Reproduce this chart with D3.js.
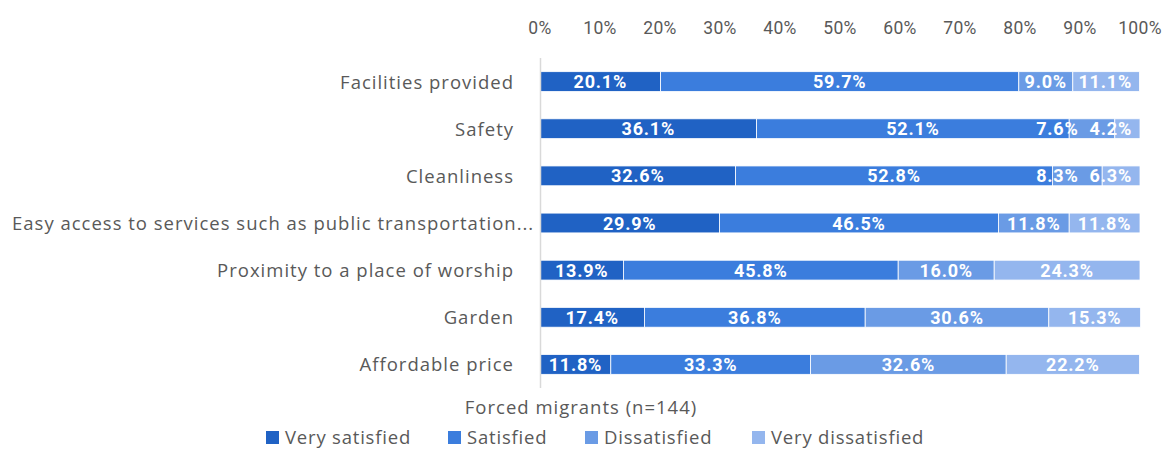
<!DOCTYPE html>
<meta charset="utf-8">
<head>
  <style>
    body { margin: 0; background: #fff; }
    svg text { font-family: "Open Sans", Roboto, sans-serif; }
    svg text.num { font-family: Roboto, sans-serif; }
  </style>
</head>
<body>
  <svg id="viz" width="1170" height="450"></svg>
  <script src="https://d3js.org/d3.v7.min.js"></script>
  <script>
    var categories = ["Facilities provided", "Safety", "Cleanliness",
      "Easy access to services such as public transportation...",
      "Proximity to a place of worship", "Garden", "Affordable price"];
    var series = ["Very satisfied", "Satisfied", "Dissatisfied", "Very dissatisfied"];
    var verySatisfied = [20.1, 36.1, 32.6, 29.9, 13.9, 17.4, 11.8];
    var satisfied = [59.7, 52.1, 52.8, 46.5, 45.8, 36.8, 33.3];
    var dissatisfied = [9.0, 7.6, 8.3, 11.8, 16.0, 30.6, 32.6];
    var veryDissatisfied = [11.1, 4.2, 6.3, 11.8, 24.3, 15.3, 22.2];
    var ticks = [0, 10, 20, 30, 40, 50, 60, 70, 80, 90, 100];
    var legendTitle = "Forced migrants (n=144)";

    var colors = ["#2062c4", "#3b7ddd", "#6a9be5", "#94b6ee"];
    var svg = d3.select("#viz");

    var x = d3.scaleLinear().domain([0, 100]).range([540, 1140]);
    var y = d3.scaleBand().domain(categories).range([58, 388]).paddingInner(0.58).paddingOuter(0.29);

    var rows = categories.map(function (c, i) {
      return [verySatisfied[i], satisfied[i], dissatisfied[i], veryDissatisfied[i]];
    });
    var stacked = d3.stack().keys([0, 1, 2, 3])(rows);

    // top axis tick labels
    svg.append("g").selectAll("text").data(ticks).enter().append("text")
      .attr("class", "num")
      .attr("x", d => x(d))
      .attr("y", 34)
      .attr("text-anchor", "middle")
      .attr("font-size", 17.5)
      .attr("letter-spacing", 0.3)
      .attr("fill", "#595959")
      .text(d => d + "%");

    // bars
    var labels = categories.map(() => []);
    stacked.forEach(function (s, k) {
      var g = svg.append("g");
      g.selectAll("rect").data(s).enter().append("rect")
        .attr("x", d => x(d[0]))
        .attr("y", (d, i) => y(categories[i]))
        .attr("width", d => x(d[1]) - x(d[0]))
        .attr("height", y.bandwidth())
        .attr("fill", colors[k])
        .attr("stroke", "#fff")
        .attr("stroke-width", 0.8);
      g.selectAll("text").data(s).enter().append("text")
        .attr("class", "num")
        .attr("x", d => (x(d[0]) + x(d[1])) / 2)
        .attr("y", (d, i) => y(categories[i]) + y.bandwidth() / 2 + 6.5)
        .attr("text-anchor", "middle")
        .attr("font-size", 18)
        .attr("letter-spacing", 0.8)
        .attr("font-weight", "bold")
        .attr("fill", "#fff")
        .text(d => (d[1] - d[0]).toFixed(1) + "%")
        .each(function (d, i) { labels[i][k] = this; });
    });

    // push crowded labels at the right end leftwards, like the original
    labels.forEach(function (row) {
      var limit = x(100) - 8;
      for (var k = row.length - 1; k >= 0; k--) {
        var el = row[k];
        var w = el.getComputedTextLength();
        var cx = +el.getAttribute("x");
        if (cx + w / 2 > limit) {
          cx = limit - w / 2;
          el.setAttribute("x", cx);
        }
        limit = cx - w / 2 - 11;
      }
    });

    // vertical axis line
    svg.append("line")
      .attr("x1", 540.5).attr("x2", 540.5)
      .attr("y1", 58).attr("y2", 388)
      .attr("stroke", "#d9d9d9").attr("stroke-width", 1.5);

    // category labels
    svg.append("g").selectAll("text").data(categories).enter().append("text")
      .attr("y", d => y(d) + y.bandwidth() / 2 + 7)
      .attr("font-size", 18.5)
      .attr("letter-spacing", 1)
      .attr("fill", "#595959")
      .text(d => d)
      .each(function () {
        var t = d3.select(this);
        var w = this.getComputedTextLength();
        if (w > 500) t.attr("x", 12).attr("text-anchor", "start");
        else t.attr("x", 514).attr("text-anchor", "end");
      });

    // legend
    svg.append("text")
      .attr("x", 581).attr("y", 414)
      .attr("text-anchor", "middle")
      .attr("font-size", 18.5)
      .attr("letter-spacing", 1)
      .attr("fill", "#595959")
      .text(legendTitle);

    var legendX = [266, 448, 585, 752];
    var lg = svg.append("g").selectAll("g").data(series).enter().append("g")
      .attr("transform", (d, i) => "translate(" + legendX[i] + ",431)");
    lg.append("rect").attr("width", 13).attr("height", 13)
      .attr("fill", (d, i) => colors[i]);
    lg.append("text").attr("x", 19).attr("y", 13)
      .attr("font-size", 18.5)
      .attr("letter-spacing", 0.8)
      .attr("fill", "#595959")
      .text(d => d);
  </script>
</body>
</html>
